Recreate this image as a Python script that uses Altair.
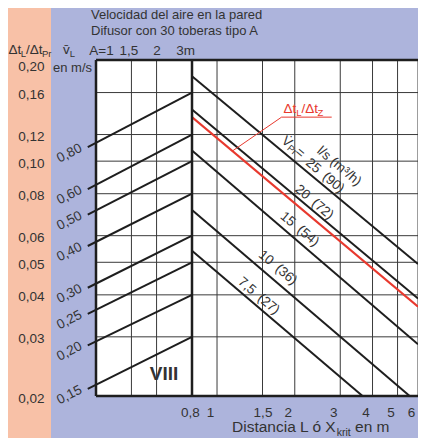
import altair as alt
import pandas as pd

# ---------------- data ----------------
y_ticks = [0.02, 0.03, 0.04, 0.05, 0.06, 0.08, 0.10, 0.12, 0.16, 0.20]
y_grid = [0.03, 0.04, 0.05, 0.06, 0.08, 0.10, 0.12, 0.16]
y_frame = [0.02, 0.20]

L_ticks = [0.8, 1, 1.5, 2, 3, 4, 5, 6]
L_grid = [1, 1.5, 2, 3, 4, 5, 6]
L_split = [0.8]

A_ticks = [1, 1.5, 2, 3]
A_grid = [1.5, 2]
A_frame = [1]

# left nomogram: air velocity lines (v_L in m/s)
vl_labels = ["0,80", "0,60", "0,50", "0,40", "0,30", "0,25", "0,20", "0,15"]
vl_A = [0.91, 3.0]
vl_start = [0.110, 0.0826, 0.0693, 0.0559, 0.0420, 0.0351, 0.0283, 0.0210]
vl_end = [0.16, 0.12, 0.10, 0.08, 0.06, 0.05, 0.04, 0.03]

# right nomogram: flow rate lines V_Pr (l/s and m3/h)
flow_names = ["25", "20", "15", "10", "7,5"]
flow_m3h = ["90", "72", "54", "36", "27"]
flow_L0 = [0.8, 0.8, 0.8, 0.8, 0.8]
flow_v0 = [0.179, 0.1424, 0.1075, 0.0716, 0.0541]
flow_L1 = [6.0, 6.0, 6.0, 5.57, 3.66]
flow_v1 = [0.0494, 0.0390, 0.0285, 0.0200, 0.0200]
flow_lab_L = [2.62, 2.38, 2.09, 1.72, 1.45]
flow_lab_v = [0.0905, 0.0755, 0.0628, 0.0482, 0.0397]

# red line dt_L/dt_Z
red_L = [0.8, 6.0]
red_v = [0.1352, 0.0369]
red_leader_L = [1.147, 1.778, 2.78]
red_leader_v = [0.1072, 0.1352, 0.1352]

vpr_pos = (1.975, 0.1100)
units_pos = (2.97, 0.0966)
roman_pos = (2.18, 0.0232)

# ---------------- styles ----------------
FONT = "Liberation Sans"
TXT = "#333333"
LINE = "#1e1e1e"
GRID = "#3a3a3a"
RED = "#e8392e"
SALMON = "#f8c1a7"
BLUE = "#adb4dc"

W, H = 322, 336
yscale = alt.Scale(type="log", domain=[0.02, 0.2], nice=False)
Lscale = alt.Scale(type="log", domain=[0.8, 6], range=[96, 322], nice=False)
Ascale = alt.Scale(type="log", domain=[1, 3], range=[0, 96], nice=False)

yaxis = alt.Axis(values=y_ticks,
                 labelExpr="replace(format(datum.value, '.2f'), '.', ',')",
                 ticks=False, domain=False, grid=False, labelPadding=52,
                 labelFontSize=13.5, labelColor=TXT, labelFont=FONT, title=None, zindex=2,
                 labelOffset={"condition": {"test": "datum.value > 0.19", "value": 6}, "value": 2})

Laxis = alt.Axis(orient="bottom", values=L_ticks,
                 labelExpr="replace(format(datum.value, '~g'), '.', ',')",
                 ticks=False, domain=False, grid=False, labelPadding=9,
                 labelFontSize=13.5, labelColor=TXT, labelFont=FONT, zindex=2,
                 labelFlush=False, labelOverlap=False, title=None,
                 labelOffset={"condition": [{"test": "datum.value == 0.8", "value": -2},
                                            {"test": "datum.value == 1.5", "value": 0}],
                              "value": -7})

Aaxis = alt.Axis(orient="top", values=A_ticks,
                 labelExpr="datum.value == 1 ? 'A=1' : datum.value == 3 ? '3m' : replace(format(datum.value, '~g'), '.', ',')",
                 ticks=False, domain=False, grid=False, labelPadding=3,
                 labelFontSize=13.5, labelColor=TXT, labelFont=FONT, zindex=2,
                 labelFlush=False, labelOverlap=False, title=None,
                 labelOffset={"condition": [{"test": "datum.value == 1", "value": 5},
                                            {"test": "datum.value == 1.5", "value": -3},
                                            {"test": "datum.value == 3", "value": -7}],
                              "value": 0})


def Yenc():
    return alt.Y("v:Q", scale=yscale, axis=yaxis)


def XL(axis=None):
    return alt.X("L:Q", scale=Lscale, axis=axis)


def XA(axis=None):
    return alt.X("A:Q", scale=Ascale, axis=axis)


def txt(df, x, text, size=13.5, color=TXT, **kw):
    return alt.Chart(df).mark_text(text=text, fontSize=size, color=color, font=FONT, **kw).encode(
        x=x, y=Yenc())


# ---------------- tables ----------------
df_one = pd.DataFrame({"k": [0]})
df_ygrid = pd.DataFrame({"v": y_grid})
df_yframe = pd.DataFrame({"v": y_frame})
df_Lgrid = pd.DataFrame({"L": L_grid})
df_Lsplit = pd.DataFrame({"L": L_split})
df_Agrid = pd.DataFrame({"A": A_grid})
df_Aframe = pd.DataFrame({"A": A_frame})

rows = []
for lab, v0, v1 in zip(vl_labels, vl_start, vl_end):
    rows.append({"s": lab, "A": vl_A[0], "v": v0})
    rows.append({"s": lab, "A": vl_A[1], "v": v1})
df_vl = pd.DataFrame(rows)
df_vl_lab = pd.DataFrame({"A": [vl_A[0]] * len(vl_labels), "v": vl_start, "t": vl_labels})

rows = []
for n, l0, v0, l1, v1 in zip(flow_names, flow_L0, flow_v0, flow_L1, flow_v1):
    rows.append({"s": n, "L": l0, "v": v0})
    rows.append({"s": n, "L": l1, "v": v1})
df_flow = pd.DataFrame(rows)
df_flow_lab = pd.DataFrame({"L": flow_lab_L, "v": flow_lab_v,
                            "t": [f"{a}\u2002({b})" for a, b in zip(flow_names, flow_m3h)]})

df_red = pd.DataFrame({"L": red_L, "v": red_v})
df_leader = pd.DataFrame({"L": red_leader_L, "v": red_leader_v})
df_red_anchor = pd.DataFrame({"L": [red_leader_L[1]], "v": [red_leader_v[1]]})

df_top = pd.DataFrame({"A": [A_ticks[0]], "v": [y_ticks[-1]]})
df_bot = pd.DataFrame({"L": [L_ticks[1]], "v": [y_ticks[0]]})
df_vpr = pd.DataFrame({"L": [vpr_pos[0]], "v": [vpr_pos[1]]})
df_units = pd.DataFrame({"L": [units_pos[0]], "v": [units_pos[1]]})
df_roman = pd.DataFrame({"A": [roman_pos[0]], "v": [roman_pos[1]]})

# ---------------- layers ----------------
layers = []
layers.append(alt.Chart(df_one).mark_rect(color=SALMON).encode(
    x=alt.value(-88), x2=alt.value(-45), y=alt.value(-52), y2=alt.value(H + 42)))

layers.append(alt.Chart(df_ygrid).mark_rule(color=GRID, strokeWidth=1).encode(y=Yenc()))
layers.append(alt.Chart(df_Lgrid).mark_rule(color=GRID, strokeWidth=1).encode(x=XL()))
layers.append(alt.Chart(df_Agrid).mark_rule(color=GRID, strokeWidth=1).encode(x=XA()))

layers.append(alt.Chart(df_vl).mark_line(color=LINE, strokeWidth=2).encode(
    x=XA(Aaxis), y=Yenc(), detail="s:N"))
layers.append(alt.Chart(df_flow).mark_line(color=LINE, strokeWidth=2).encode(
    x=XL(Laxis), y=Yenc(), detail="s:N"))
layers.append(alt.Chart(df_red).mark_line(color=RED, strokeWidth=2).encode(x=XL(), y=Yenc()))
layers.append(alt.Chart(df_leader).mark_line(color=RED, strokeWidth=1).encode(x=XL(), y=Yenc()))

layers.append(alt.Chart(df_yframe).mark_rule(color=LINE, strokeWidth=2.5).encode(y=Yenc()))
layers.append(alt.Chart(df_Lsplit).mark_rule(color=LINE, strokeWidth=2.5).encode(x=XL()))
layers.append(alt.Chart(df_Aframe).mark_rule(color=LINE, strokeWidth=2.5).encode(x=XA()))

# velocity labels
layers.append(alt.Chart(df_vl_lab).mark_text(angle=333, align="right", baseline="middle", dx=-6, dy=-3,
                                             fontSize=13.5, color=TXT, font=FONT).encode(
    x=XA(), y=Yenc(), text="t:N"))
# flow labels
layers.append(alt.Chart(df_flow_lab).mark_text(angle=40, align="center", baseline="middle",
                                               fontSize=13.5, color=TXT, font=FONT).encode(
    x=XL(), y=Yenc(), text="t:N"))
layers.append(txt(df_vpr, XL(), "V\u0307", angle=40, align="left", baseline="middle", dx=-13))
layers.append(txt(df_vpr, XL(), "Pr", size=9.5, angle=40, align="left", baseline="middle", dx=-4, dy=3))
layers.append(txt(df_vpr, XL(), "=", angle=40, align="left", baseline="middle", dx=5))
layers.append(txt(df_units, XL(), "l/s (m³/h)", angle=40, align="center", baseline="middle"))

# red label
layers.append(txt(df_red_anchor, XL(), "Δt", color=RED, align="left", baseline="alphabetic", dx=2, dy=-4))
layers.append(txt(df_red_anchor, XL(), "L", size=9.5, color=RED, align="left", baseline="alphabetic", dx=14.7, dy=-1))
layers.append(txt(df_red_anchor, XL(), "/Δt", color=RED, align="left", baseline="alphabetic", dx=20, dy=-4))
layers.append(txt(df_red_anchor, XL(), "Z", size=9.5, color=RED, align="left", baseline="alphabetic", dx=36, dy=-1))

# roman numeral
layers.append(txt(df_roman, XA(), "VIII", size=19, fontWeight="bold", align="center", baseline="middle"))

# header
layers.append(txt(df_top, XA(), "Velocidad del aire en la pared", size=13, align="left", baseline="alphabetic", dx=-5, dy=-41))
layers.append(txt(df_top, XA(), "Difusor con 30 toberas tipo A", size=13, align="left", baseline="alphabetic", dx=-5, dy=-25))
layers.append(txt(df_top, XA(), "Δt", align="left", baseline="alphabetic", dx=-87.5, dy=-6))
layers.append(txt(df_top, XA(), "L", size=9.5, align="left", baseline="alphabetic", dx=-75.2, dy=-3))
layers.append(txt(df_top, XA(), "/Δt", align="left", baseline="alphabetic", dx=-69.9, dy=-6))
layers.append(txt(df_top, XA(), "Pr", size=9.5, align="left", baseline="alphabetic", dx=-54, dy=-3))
layers.append(txt(df_top, XA(), "v\u0304", align="left", baseline="alphabetic", dx=-33, dy=-6))
layers.append(txt(df_top, XA(), "L", size=9.5, align="left", baseline="alphabetic", dx=-26.3, dy=-3.5))
layers.append(txt(df_top, XA(), "en m/s", size=13, align="left", baseline="alphabetic", dx=-43, dy=11.5))

# bottom title
layers.append(txt(df_bot, XL(), "Distancia L ó X", size=15.5, align="left", baseline="alphabetic", dx=15, dy=36))
layers.append(txt(df_bot, XL(), "krit", size=10.5, align="left", baseline="alphabetic", dx=119.7, dy=40))
layers.append(txt(df_bot, XL(), "en m", size=15.5, align="left", baseline="alphabetic", dx=138, dy=36))

chart = alt.layer(*layers).properties(
    width=W, height=H,
    padding={"left": 88, "top": 52, "right": 0, "bottom": 42},
    autosize=alt.AutoSizeParams(type="none"),
    background=BLUE,
).resolve_scale(x="independent").configure_view(stroke=None, fill="white")

chart.save("out.html", embed_options={"renderer": "svg", "actions": False})
